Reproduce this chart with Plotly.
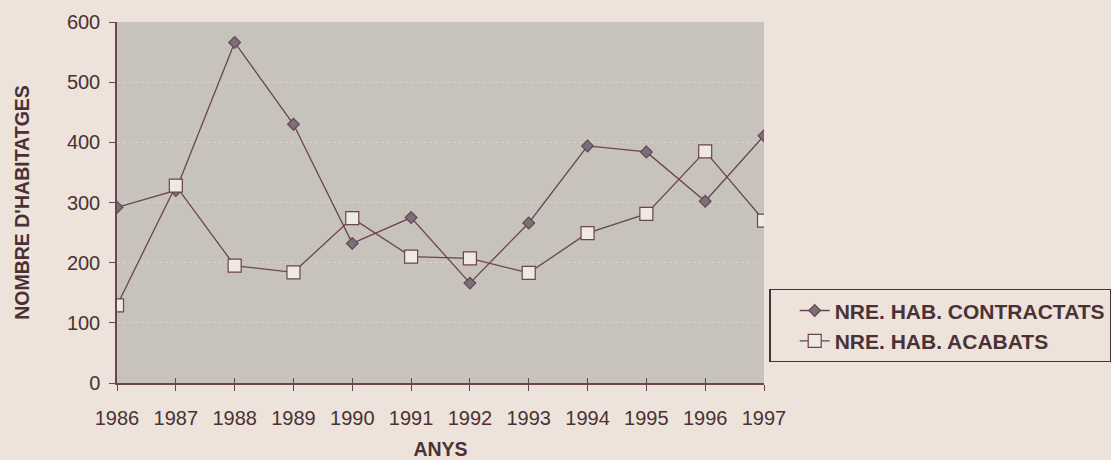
import plotly.graph_objects as go

# Years and housing counts
anys = [1986, 1987, 1988, 1989, 1990, 1991, 1992, 1993, 1994, 1995, 1996, 1997]
contractats = [292, 320, 566, 430, 232, 275, 166, 266, 394, 384, 302, 411]
acabats = [129, 328, 195, 184, 274, 210, 207, 183, 249, 281, 385, 270]
y_ticks = [0, 100, 200, 300, 400, 500, 600]

PAGE = "#ede3da"
PLOT = "#c8c2bd"
INK = "#6a4450"
TEXT = "#4a3136"
FONT = "Liberation Sans, Arial, sans-serif"

fig = go.Figure()

fig.add_trace(go.Scatter(
    x=anys, y=contractats, name="NRE. HAB. CONTRACTATS",
    mode="lines+markers",
    line=dict(color=INK, width=1.3),
    marker=dict(symbol="diamond", size=9, color="#76717a",
                line=dict(color=INK, width=1.2)),
))
fig.add_trace(go.Scatter(
    x=anys, y=acabats, name="NRE. HAB. ACABATS",
    mode="lines+markers",
    line=dict(color=INK, width=1.3),
    marker=dict(symbol="square", size=13, color="#efe9e3",
                line=dict(color=INK, width=1.2)),
))

fig.update_layout(
    width=1111, height=460,
    paper_bgcolor=PAGE, plot_bgcolor=PLOT,
    margin=dict(l=117, r=347, t=22, b=77, autoexpand=False),
    font=dict(family=FONT, size=20, color=TEXT),
    showlegend=True,
    legend=dict(
        x=1.0085, xanchor="left", y=0.26, yanchor="top",
        bgcolor=PAGE, bordercolor=TEXT, borderwidth=1.2,
        font=dict(family=FONT, size=21, color=TEXT, weight="bold"),
        indentation=24, tracegroupgap=0,
    ),
    xaxis=dict(
        range=[1986, 1997], tickvals=anys, ticktext=[str(a) for a in anys],
        showgrid=False, zeroline=False, automargin=False,
        showline=True, linecolor=INK, linewidth=1.5,
        ticks="outside", ticklen=6, tickcolor=INK, tickwidth=1.3,
        ticklabelstandoff=10,
        title=dict(text="<b>ANYS</b>", standoff=20,
                   font=dict(family=FONT, size=19.5, color=TEXT)),
    ),
    xaxis2=dict(
        range=[1986, 1997], tickvals=anys, overlaying="x", anchor="y",
        side="bottom", showticklabels=False, showgrid=False, zeroline=False,
        ticks="inside", ticklen=5, tickcolor=INK, tickwidth=1.3,
    ),
    yaxis=dict(
        range=[0, 600], tickvals=y_ticks, automargin=False,
        showgrid=True, gridcolor="#d9d0c9", griddash="dot", gridwidth=1,
        zeroline=False,
        showline=True, linecolor=INK, linewidth=1.5,
        ticks="outside", ticklen=6, tickcolor=INK, tickwidth=1.3,
        ticklabelstandoff=5,
        title=dict(text="<b>NOMBRE D'HABITATGES</b>", standoff=32,
                   font=dict(family=FONT, size=19.5, color=TEXT)),
    ),
)

# Invisible trace to carry the inward half of the x ticks
fig.add_trace(go.Scatter(x=[anys[0]], y=[0], xaxis="x2", yaxis="y",
                         mode="markers", marker=dict(opacity=0),
                         showlegend=False, hoverinfo="skip"))

fig.write_html("out.html")
